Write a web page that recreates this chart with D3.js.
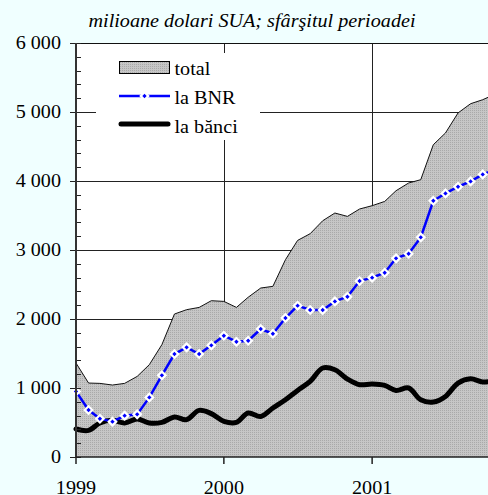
<!DOCTYPE html>
<html>
<head>
<meta charset="utf-8">
<script src="https://cdn.jsdelivr.net/npm/d3@7"></script>
<style>
  html, body { margin: 0; padding: 0; background: #f0ffff; }
  svg { display: block; }
</style>
</head>
<body>
<svg id="chart" width="488" height="495"></svg>
<script>
// monthly data, end of period, Jan 1999 .. Nov 2001 (millions USD)
const firstMonth = "1999-01";
const totalValues = [1362, 1072, 1067, 1043, 1067, 1168, 1338, 1628, 2072, 2135, 2168, 2265,
    2255, 2168, 2315, 2449, 2473, 2859, 3139, 3236, 3424, 3536, 3487, 3594,
    3642, 3704, 3859, 3971, 4019, 4526, 4696, 4986, 5120, 5178, 5260];
const bnrValues = [951, 681, 555, 512, 599, 618, 864, 1183, 1492, 1589, 1492, 1618,
    1758, 1671, 1685, 1855, 1787, 2014, 2193, 2130, 2130, 2255, 2323, 2551,
    2599, 2671, 2879, 2946, 3183, 3714, 3820, 3917, 3994, 4096, 4170];
const bankValues = [406, 386, 493, 531, 493, 551, 493, 502, 580, 541, 676, 628,
    517, 502, 638, 588, 710, 830, 965, 1096, 1290, 1265, 1130, 1048,
    1058, 1038, 965, 1000, 830, 797, 878, 1072, 1135, 1087, 1110];
const yearLabels = ["1999", "2000", "2001"];
const yTicks = [0, 1000, 2000, 3000, 4000, 5000, 6000];
const legendLabels = ["total", "la BNR", "la bănci"];
const titleText = "milioane dolari SUA; sfârşitul perioadei";

const serif = "'Liberation Serif', 'Times New Roman', serif";
const fontSize = 18.5;
const stretch = 1.09; // the original type is a bit wide for its height

const parseMonth = d3.timeParse("%Y-%m");
const start = parseMonth(firstMonth);
const months = totalValues.map((d, i) => d3.timeMonth.offset(start, i));
const rows = months.map((m, i) => ({
    date: m, total: totalValues[i], bnr: bnrValues[i], banks: bankValues[i]
}));

const svg = d3.select("#chart");
const plotLeft = 76, plotTop = 43, plotBottom = 457;

const x = d3.scaleTime()
    .domain([parseMonth("1999-01"), parseMonth("2002-01")])
    .range([plotLeft, 520]);
const y = d3.scaleLinear().domain([0, 6000]).range([plotBottom, plotTop]);

const ro = d3.formatLocale({ decimal: ",", thousands: " ", grouping: [3], currency: ["", ""] });
const fmt = ro.format(",");

// place a stretched text label at (tx, ty)
function label(sel, tx, ty) {
    return sel.attr("transform", (d, i) =>
        `translate(${typeof tx === "function" ? tx(d, i) : tx},${typeof ty === "function" ? ty(d, i) : ty}) scale(${stretch},1)`)
        .attr("font-size", fontSize)
        .style("font-family", serif);
}

// background
svg.append("rect").attr("width", 488).attr("height", 495).attr("fill", "#f0ffff");
svg.append("rect").attr("x", plotLeft).attr("y", plotTop)
    .attr("width", 488 - plotLeft).attr("height", plotBottom - plotTop).attr("fill", "#fff");

// dotted grey texture for the area
const defs = svg.append("defs");
const pat = defs.append("pattern").attr("id", "dots")
    .attr("width", 2).attr("height", 2).attr("patternUnits", "userSpaceOnUse");
pat.append("rect").attr("width", 2).attr("height", 2).attr("fill", "#c6c6c6");
pat.append("rect").attr("width", 1).attr("height", 1).attr("fill", "#a9a9a9");

// grid
const grid = svg.append("g").attr("stroke", "#222").attr("stroke-width", 1);
grid.selectAll(".h").data(yTicks.filter((d) => d > 0 && d < 6000)).enter()
    .append("line")
    .attr("x1", plotLeft).attr("x2", 488)
    .attr("y1", (d) => Math.round(y(d)) + 0.5).attr("y2", (d) => Math.round(y(d)) + 0.5);
grid.selectAll(".v").data(yearLabels.slice(1)).enter()
    .append("line")
    .attr("x1", (d) => Math.round(x(parseMonth(d + "-01"))) + 0.5)
    .attr("x2", (d) => Math.round(x(parseMonth(d + "-01"))) + 0.5)
    .attr("y1", plotTop).attr("y2", plotBottom);

// total area
const area = d3.area().x((d) => x(d.date)).y0(y(0)).y1((d) => y(d.total));
svg.append("path").datum(rows).attr("d", area).attr("fill", "url(#dots)");
svg.append("path").datum(rows)
    .attr("d", d3.line().x((d) => x(d.date)).y((d) => y(d.total)))
    .attr("fill", "none").attr("stroke", "#111").attr("stroke-width", 1);

// legend box (hides grid)
svg.append("rect").attr("x", 96).attr("y", 53).attr("width", 164).attr("height", 87).attr("fill", "#fff");

// banks line
svg.append("path").datum(rows)
    .attr("d", d3.line().curve(d3.curveCatmullRom).x((d) => x(d.date)).y((d) => y(d.banks)))
    .attr("fill", "none").attr("stroke", "#000").attr("stroke-width", 5)
    .attr("stroke-linejoin", "round").attr("stroke-linecap", "round");

// BNR line with diamond markers
svg.append("path").datum(rows)
    .attr("d", d3.line().x((d) => x(d.date)).y((d) => y(d.bnr)))
    .attr("fill", "none").attr("stroke", "#0000ff").attr("stroke-width", 2.5);
const diamond = d3.symbol(d3.symbolSquare, 28)();
svg.selectAll(".mk").data(rows).enter().append("path")
    .attr("d", diamond)
    .attr("transform", (d) => `translate(${x(d.date)},${y(d.bnr)}) rotate(45)`)
    .attr("fill", "#0000ff").attr("stroke", "#fff").attr("stroke-width", 2.2);

// top border
svg.append("line").attr("x1", 70).attr("x2", 488).attr("y1", plotTop + 0.5).attr("y2", plotTop + 0.5)
    .attr("stroke", "#111").attr("stroke-width", 1);

// y axis
const yAxis = svg.append("g");
yAxis.selectAll(".minor").data(d3.range(0, 6001, 200).filter((d) => d % 1000 !== 0)).enter()
    .append("line")
    .attr("x1", plotLeft).attr("x2", plotLeft + 5)
    .attr("y1", (d) => Math.round(y(d)) + 0.5).attr("y2", (d) => Math.round(y(d)) + 0.5)
    .attr("stroke", "#222");
yAxis.selectAll(".major").data(yTicks).enter()
    .append("line")
    .attr("x1", 70).attr("x2", plotLeft + 5)
    .attr("y1", (d) => Math.round(y(d)) + 0.5).attr("y2", (d) => Math.round(y(d)) + 0.5)
    .attr("stroke", "#222");
label(yAxis.selectAll("text").data(yTicks).enter().append("text"), 61, (d) => y(d) + 6.3)
    .attr("text-anchor", "end").attr("fill", "#000")
    .text((d) => fmt(d));
svg.append("line").attr("x1", plotLeft).attr("x2", plotLeft).attr("y1", plotTop).attr("y2", plotBottom + 1)
    .attr("stroke", "#333").attr("stroke-width", 2);

// x axis
svg.append("line").attr("x1", plotLeft).attr("x2", 488).attr("y1", plotBottom).attr("y2", plotBottom)
    .attr("stroke", "#222").attr("stroke-width", 1.5);
const xAxis = svg.append("g");
xAxis.selectAll("line").data(yearLabels).enter().append("line")
    .attr("x1", (d) => x(parseMonth(d + "-01"))).attr("x2", (d) => x(parseMonth(d + "-01")))
    .attr("y1", plotBottom).attr("y2", plotBottom + 7)
    .attr("stroke", "#222").attr("stroke-width", 1.5);
label(xAxis.selectAll("text").data(yearLabels).enter().append("text"),
    (d) => x(parseMonth(d + "-01")), 494)
    .attr("text-anchor", "middle")
    .text((d) => d);

// title
label(svg.append("text"), 252, 27)
    .attr("text-anchor", "middle").attr("font-style", "italic")
    .text(titleText);

// legend
const lg = svg.append("g");
lg.append("rect").attr("x", 119.5).attr("y", 61.5).attr("width", 50).attr("height", 12)
    .attr("fill", "url(#dots)").attr("stroke", "#000").attr("stroke-width", 1);
lg.append("line").attr("x1", 119).attr("x2", 170).attr("y1", 96).attr("y2", 96)
    .attr("stroke", "#0000ff").attr("stroke-width", 2.5);
lg.append("path").attr("d", diamond).attr("transform", "translate(144.5,96) rotate(45)")
    .attr("fill", "#0000ff").attr("stroke", "#fff").attr("stroke-width", 2.2);
lg.append("line").attr("x1", 121).attr("x2", 168).attr("y1", 124).attr("y2", 124)
    .attr("stroke", "#000").attr("stroke-width", 5).attr("stroke-linecap", "round");
label(lg.selectAll("text").data(legendLabels).enter().append("text"),
    174.5, (d, i) => [75, 104, 133][i])
    .text((d) => d);
</script>
</body>
</html>
